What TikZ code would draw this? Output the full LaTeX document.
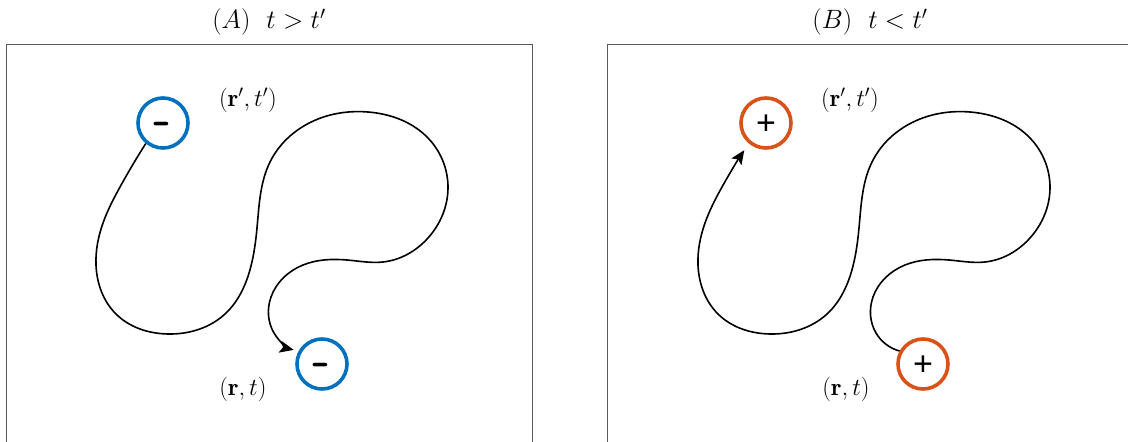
\RequirePackage{fix-cm}
\documentclass[tikz,border=0pt]{standalone}
\usepackage{fontspec}
\newfontfamily\signfont{Liberation Sans}
\usetikzlibrary{arrows.meta,hobby}
\definecolor{mblue}{RGB}{0,114,189}
\definecolor{morange}{RGB}{217,83,25}
\begin{document}
\begin{tikzpicture}[x=1pt,y=-1pt,
  panel/.style={draw=black!65,line width=0.9pt},
  charge/.style={circle,draw=#1,line width=3.6pt,minimum size=50pt,inner sep=0pt,text height=0pt,text depth=0pt},
  minus/.style={charge=mblue,font=\sffamily\bfseries\fontsize{50}{50}\selectfont},
  plus/.style={charge=morange,font=\signfont\fontsize{34}{34}\selectfont},
  track/.style={line width=1.6pt,black,use Hobby shortcut},
  tip/.style={-{Stealth[length=14pt,width=12pt,inset=3pt]}},
  lbl/.style={font=\fontsize{24.5}{30}\selectfont,inner sep=0pt},
  ttl/.style={font=\fontsize{26.5}{32}\selectfont,inner sep=0pt}
]
\useasboundingbox (0,0) rectangle (1128,442);
\clip (0,0) rectangle (1128,442);
% panels
\draw[panel] (6,44) rectangle (532,470);
\draw[panel] (607,44) rectangle (1150,470);
\node[ttl] (tA) at (269,22) {$(A)\ \ t>t'$};
\node[ttl] (tB) at (870,22) {$(B)\ \ t<t'$};
% panel A
\node[minus] (a1) at (163,123) {\smash{\raisebox{-0.245em}{-}}};
\node[minus] (a2) at (322,364) {\smash{\raisebox{-0.245em}{-}}};
\node[lbl] (la1) at (248,100) {$(\mathbf{r}',t')$};
\node[lbl] (la2) at (243,389) {$(\mathbf{r},t)$};
\draw[track,tip,shorten >=5pt] (a1.230) .. (120,187) .. (103,223) .. (96,265) .. (116,314)
 .. (168,334) .. (225,314) .. (251,266) .. (257,228) .. (270,162) .. (318,119) .. (368,112)
 .. (428,138) .. (448,188) .. (428,238) .. (383,262) .. (347,260) .. (303,265)
 .. (271,297) .. (274,333) .. (a2.151);
% panel B
\node[plus] (b1) at (766,123) {\smash{\raisebox{-0.33em}{+}}};
\node[plus] (b2) at (923,364) {\smash{\raisebox{-0.33em}{+}}};
\node[lbl] (lb1) at (850,100) {$(\mathbf{r}',t')$};
\node[lbl] (lb2) at (846,389) {$(\mathbf{r},t)$};
\draw[track,tip,shorten >=8pt] (b2.151) .. (876,333) .. (873,297) .. (905,265) .. (949,260)
 .. (985,262) .. (1030,238) .. (1050,188) .. (1030,138) .. (970,112) .. (920,119)
 .. (872,162) .. (859,228) .. (853,266) .. (827,314) .. (770,334) .. (718,314)
 .. (698,265) .. (705,223) .. (722,187) .. (b1.230);
\end{tikzpicture}
\end{document}
